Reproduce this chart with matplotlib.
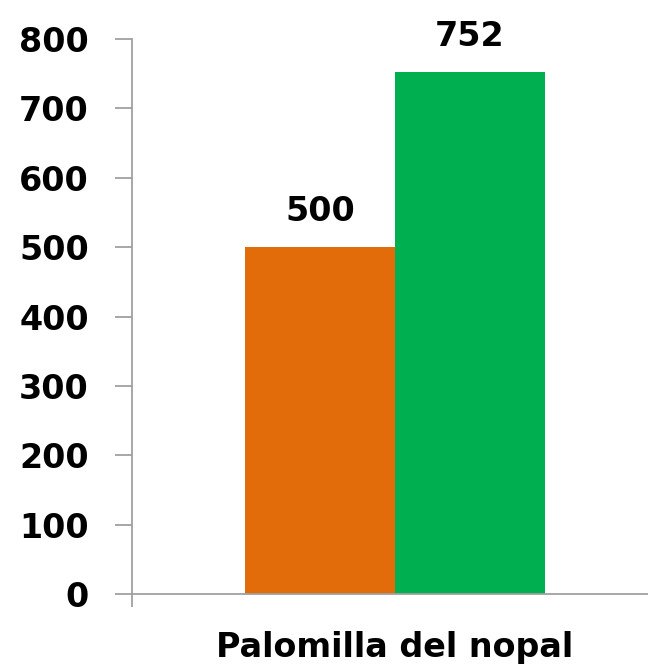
import matplotlib
matplotlib.use("Agg")
import matplotlib.pyplot as plt

category = "Palomilla del nopal"
series_values = [500, 752]
series_colors = ["#E36C0A", "#00B050"]
yticks = [0, 100, 200, 300, 400, 500, 600, 700, 800]

plt.rcParams['font.family'] = ['DejaVu Sans']
fig = plt.figure(figsize=(6.48, 6.68), dpi=100)
W, H = 648, 668
ax = fig.add_axes([132 / W, 74 / H, 516 / W, 555 / H])

span = 526.0
xl = -0.5
xr = -0.5 + 516 / span
bw = 150 / span
offsets = [-bw / 2, bw / 2]
fs = 24
for v, c, o in zip(series_values, series_colors, offsets):
    ax.bar(0 + o, v, width=bw, color=c, linewidth=0)
    ax.annotate(f"{v}", (0 + o, v), xytext=(0, 14), textcoords="offset points",
                ha="center", va="bottom", fontsize=fs, fontweight="bold", color="black")

ax.set_xlim(xl, xr)
ax.set_ylim(0, 800)
ax.set_yticks(yticks)
ax.set_yticklabels([str(t) for t in yticks], fontsize=fs, fontweight="bold")
ax.tick_params(axis="y", length=12, width=1.3, color="#A0A0A0", pad=19)

ax.set_xticks([0])
ax.set_xticklabels([category], fontsize=fs, fontweight="bold")
ax.tick_params(axis="x", which="major", length=0, pad=27)
ax.set_xticks([xl], minor=True)
ax.tick_params(axis="x", which="minor", length=9, width=1.3, color="#A0A0A0")

for s in ["top", "right"]:
    ax.spines[s].set_visible(False)
for s in ["left", "bottom"]:
    ax.spines[s].set_color("#A0A0A0")
    ax.spines[s].set_linewidth(1.3)

fig.savefig("out.png", dpi=100)
